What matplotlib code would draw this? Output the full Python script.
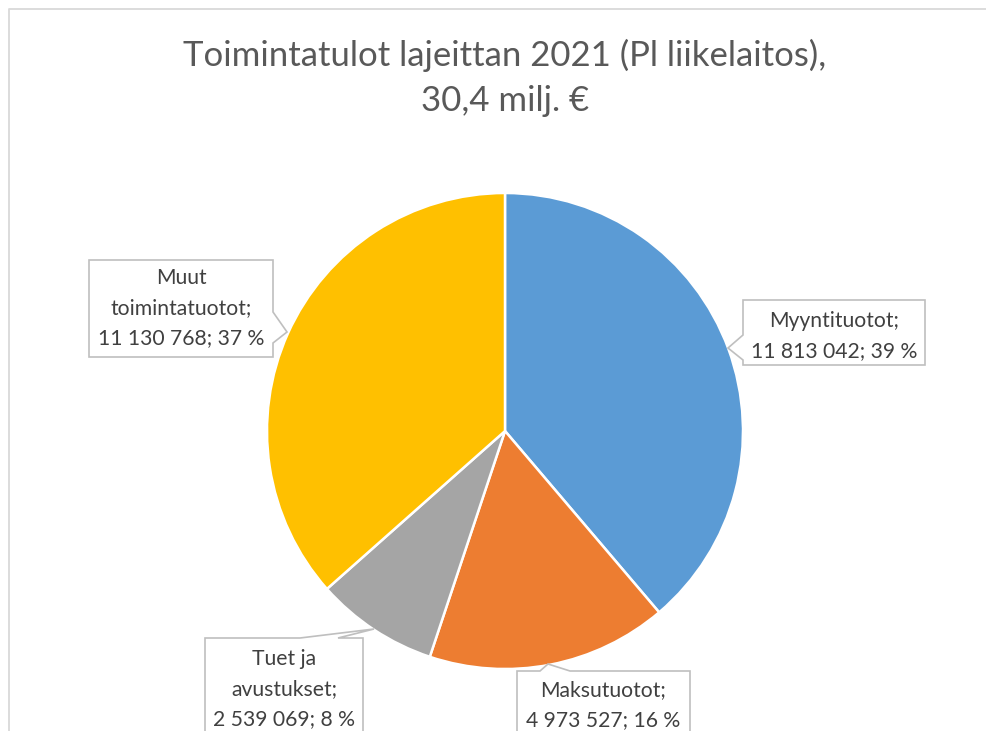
import matplotlib.pyplot as plt
from matplotlib.patches import Polygon

# data
categories = ["Myyntituotot", "Maksutuotot", "Tuet ja\navustukset", "Muut\ntoimintatuotot"]
values = [11813042, 4973527, 2539069, 11130768]
colors = ["#5B9BD5", "#ED7D31", "#A5A5A5", "#FFC000"]
title = "Toimintatulot lajeittan 2021 (Pl liikelaitos),\n30,4 milj. €"

W, H = 986, 731
FONT = "Lato"


def fmt_num(v):
    return f"{v:,}".replace(",", " ")


def px(x, y):
    # pixel coords (y down) -> axes data coords (y up)
    return (x, H - y)


fig = plt.figure(figsize=(W / 100, H / 100), dpi=100)
ax = fig.add_axes([0, 0, 1, 1])

total = sum(values)
ax.pie(values, colors=colors, startangle=90, counterclock=False,
       center=px(505, 431), radius=238,
       wedgeprops=dict(edgecolor="white", linewidth=1.8))
ax.set_xlim(0, W)
ax.set_ylim(0, H)
ax.set_aspect("equal")
ax.axis("off")

# chart border (only top and left visible in the crop)
ax.plot([9, 9, W + 5], [-5, H - 9, H - 9], color="#D9D9D9", lw=1.3,
        clip_on=False)

ax.text(*px(505, 78), title, ha="center", va="center", fontsize=25,
        color="#595959", family=FONT, linespacing=1.47)

# callout shapes (pixel coords) and text centres, same order as categories
callouts = [
    [(743, 300), (925, 300), (925, 365), (743, 365), (743, 360), (728, 348),
     (743, 335)],
    [(517, 671), (540, 671), (548, 664), (570, 671), (690, 671), (690, 760),
     (517, 760)],
    [(205, 638), (300, 638), (374, 629), (338, 638), (363, 638), (363, 760),
     (205, 760)],
    [(89, 260), (273, 260), (273, 312), (287, 332), (273, 343), (273, 357),
     (89, 357)],
]
text_pos = [(834, 336), (603, 705), (284, 689), (181, 308)]

for cat, v, shape, (tx, ty) in zip(categories, values, callouts, text_pos):
    poly = Polygon([px(x, y) for x, y in shape], closed=True,
                   facecolor="white", edgecolor="#BFBFBF", lw=1.2,
                   clip_on=False, zorder=3)
    ax.add_patch(poly)
    pct = round(v / total * 100)
    label = f"{cat};\n{fmt_num(v)}; {pct} %"
    ax.text(*px(tx, ty), label, ha="center", va="center", fontsize=15.2,
            color="#404040", family=FONT, linespacing=1.62, zorder=4)

fig.savefig("out.png", dpi=100, facecolor="white")
